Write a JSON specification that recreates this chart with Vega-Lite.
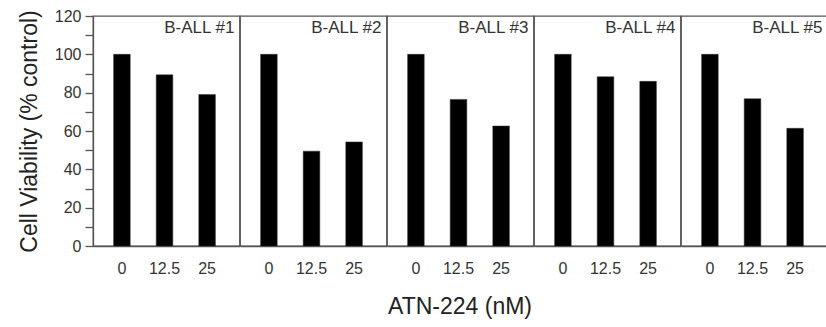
{
  "$schema": "https://vega.github.io/schema/vega-lite/v6.json",
  "padding": {"left": 18, "top": 8, "right": 0, "bottom": 5},
  "background": "white",
  "bounds": "flush",
  "data": {
    "values": [
      {"sample": "B-ALL #1", "dose": "0", "viability": 100},
      {"sample": "B-ALL #1", "dose": "12.5", "viability": 89.3},
      {"sample": "B-ALL #1", "dose": "25", "viability": 79},
      {"sample": "B-ALL #2", "dose": "0", "viability": 100},
      {"sample": "B-ALL #2", "dose": "12.5", "viability": 49.5},
      {"sample": "B-ALL #2", "dose": "25", "viability": 54.3},
      {"sample": "B-ALL #3", "dose": "0", "viability": 100},
      {"sample": "B-ALL #3", "dose": "12.5", "viability": 76.5},
      {"sample": "B-ALL #3", "dose": "25", "viability": 62.6},
      {"sample": "B-ALL #4", "dose": "0", "viability": 100},
      {"sample": "B-ALL #4", "dose": "12.5", "viability": 88.3},
      {"sample": "B-ALL #4", "dose": "25", "viability": 85.9},
      {"sample": "B-ALL #5", "dose": "0", "viability": 100},
      {"sample": "B-ALL #5", "dose": "12.5", "viability": 76.8},
      {"sample": "B-ALL #5", "dose": "25", "viability": 61.4}
    ]
  },
  "facet": {
    "column": {
      "field": "sample",
      "type": "nominal",
      "title": "ATN-224 (nM)",
      "header": {
        "labels": false,
        "titleOrient": "bottom",
        "titleFont": "Liberation Sans",
        "titleFontSize": 23,
        "titleFontWeight": "normal",
        "titleColor": "#222",
        "titlePadding": 10
      }
    }
  },
  "spacing": 0,
  "spec": {
    "width": 146.6,
    "height": 230,
    "layer": [
      {
        "mark": {"type": "bar", "color": "black", "stroke": "#333", "strokeWidth": 0.5},
        "encoding": {
          "x": {
            "field": "dose",
            "type": "ordinal",
            "sort": ["0", "12.5", "25"],
            "scale": {"paddingInner": 0.61, "paddingOuter": 0.526, "align": 0.46},
            "axis": {
              "title": null,
              "ticks": false,
              "labelAngle": 0,
              "labelFont": "Liberation Sans",
              "labelFontSize": 16,
              "labelColor": "#333",
              "labelPadding": 14,
              "domainColor": "#555",
              "domainWidth": 1.3
            }
          },
          "y": {
            "field": "viability",
            "type": "quantitative",
            "scale": {"domain": [0, 120], "nice": false},
            "axis": {
              "title": "Cell Viability (% control)",
              "titleFont": "Liberation Sans",
              "titleFontSize": 23,
              "titleFontWeight": "normal",
              "titleColor": "#222",
              "titlePadding": 13,
              "values": [0, 10, 20, 30, 40, 50, 60, 70, 80, 90, 100, 110, 120],
              "labelExpr": "datum.value % 20 === 0 ? datum.label : ''",
              "labelOverlap": false,
              "labelFlush": false,
              "labelFont": "Liberation Sans",
              "labelFontSize": 16,
              "labelColor": "#333",
              "labelPadding": 4,
              "tickSize": 8,
              "tickColor": "#555",
              "tickWidth": 1.3,
              "domainColor": "#555",
              "domainWidth": 1.3,
              "grid": false
            }
          }
        }
      },
      {
        "transform": [{"filter": "datum.dose === '25'"}],
        "mark": {
          "type": "text",
          "align": "right",
          "baseline": "middle",
          "font": "Liberation Sans",
          "fontSize": 17,
          "color": "#333",
          "dx": 19
        },
        "encoding": {
          "x": {
            "field": "dose",
            "type": "ordinal",
            "sort": ["0", "12.5", "25"],
            "bandPosition": 1,
            "axis": {
              "title": null,
              "ticks": false,
              "labelAngle": 0,
              "labelFont": "Liberation Sans",
              "labelFontSize": 16,
              "labelColor": "#333",
              "labelPadding": 14,
              "domainColor": "#555",
              "domainWidth": 1.3
            }
          },
          "y": {
            "datum": 114,
            "type": "quantitative",
            "axis": {
              "title": "Cell Viability (% control)",
              "titleFont": "Liberation Sans",
              "titleFontSize": 23,
              "titleFontWeight": "normal",
              "titleColor": "#222",
              "titlePadding": 13,
              "values": [0, 10, 20, 30, 40, 50, 60, 70, 80, 90, 100, 110, 120],
              "labelExpr": "datum.value % 20 === 0 ? datum.label : ''",
              "labelOverlap": false,
              "labelFlush": false,
              "labelFont": "Liberation Sans",
              "labelFontSize": 16,
              "labelColor": "#333",
              "labelPadding": 4,
              "tickSize": 8,
              "tickColor": "#555",
              "tickWidth": 1.3,
              "domainColor": "#555",
              "domainWidth": 1.3,
              "grid": false
            }
          },
          "text": {"field": "sample"}
        }
      }
    ]
  },
  "config": {
    "view": {"stroke": "#555", "strokeWidth": 1.3},
    "axis": {"labelOverlap": false}
  }
}
